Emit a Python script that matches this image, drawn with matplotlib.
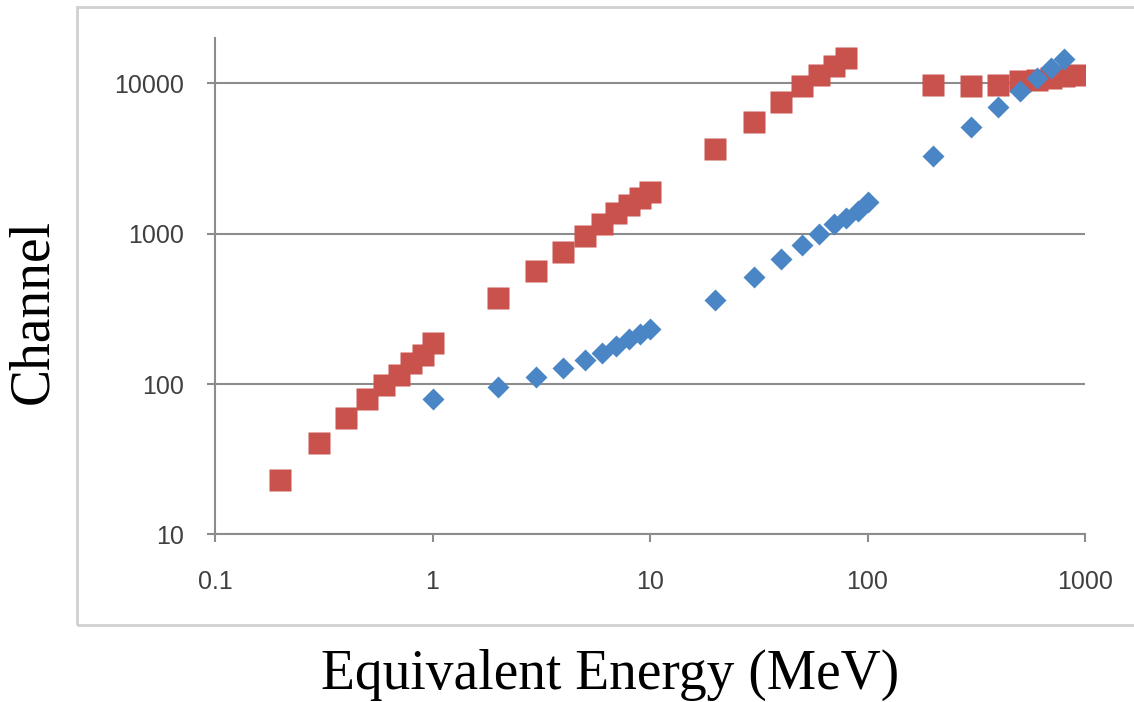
import numpy as np
import matplotlib.pyplot as plt
from matplotlib.patches import Rectangle

# data
red_energy = [0.2, 0.3, 0.4, 0.5, 0.6, 0.7, 0.8, 0.9, 1,
              2, 3, 4, 5, 6, 7, 8, 9, 10,
              20, 30, 40, 50, 60, 70, 80,
              200, 300, 400, 500, 600, 700, 800, 900]
red_channel = [23, 40.7, 59.4, 79.5, 98.5, 115, 138, 156, 188,
               373, 567, 759, 966, 1161, 1374, 1552, 1729, 1902,
               3680, 5570, 7550, 9660, 11350, 13060, 14860,
               9800, 9550, 9800, 10330, 10600, 10880, 11170, 11460]

blue_energy = [1, 2, 3, 4, 5, 6, 7, 8, 9, 10,
               20, 30, 40, 50, 60, 70, 80, 90, 100,
               200, 300, 400, 500, 600, 700, 800]
blue_channel = [79.5, 95.5, 111, 128, 144.5, 161, 179, 199, 215, 232,
                362, 515, 679, 841, 995, 1161, 1282, 1422, 1625,
                3311, 5164, 6980, 8970, 10880, 12710, 14490]

x_ticks = [0.1, 1, 10, 100, 1000]
x_ticklabels = ['0.1', '1', '10', '100', '1000']
y_ticks = [10, 100, 1000, 10000]
y_ticklabels = ['10', '100', '1000', '10000']

grid_color = '#8c8c8c'
label_color = '#404040'

fig = plt.figure(figsize=(11.34, 7.02), dpi=100)

# light grey chart-area frame (as in the excel export)
frame = Rectangle((0.068, 0.11), 1.0, 0.88, transform=fig.transFigure,
                  fill=False, edgecolor='#d0d0d0', lw=2, zorder=0)
fig.patches.append(frame)

ax = fig.add_axes([0.1896, 0.2389, 0.9568 - 0.1896, 0.9456 - 0.2389])
ax.set_xscale('log')
ax.set_yscale('log')
ax.set_xlim(0.1, 1000)
ax.set_ylim(10, 20000)

ax.plot(red_energy, red_channel, ls='none', marker='s', ms=16.5,
        color='#c9524c', mec='none', zorder=3)
ax.plot(blue_energy, blue_channel, ls='none', marker='D', ms=11,
        color='#4a86c6', mec='none', zorder=4)

ax.set_xticks(x_ticks)
ax.set_xticklabels(x_ticklabels)
ax.set_yticks(y_ticks)
ax.set_yticklabels(y_ticklabels)
ax.minorticks_off()

ax.yaxis.grid(True, color=grid_color, lw=1.5)
ax.xaxis.grid(False)
ax.set_axisbelow(True)

for s in ['top', 'right']:
    ax.spines[s].set_visible(False)
for s in ['left', 'bottom']:
    ax.spines[s].set_color(grid_color)
    ax.spines[s].set_linewidth(1.5)

ax.tick_params(axis='both', direction='out', length=6, width=1.5,
               color=grid_color, labelcolor=label_color, labelsize=18)
ax.tick_params(axis='x', pad=20)
ax.tick_params(axis='y', pad=16)
for t in ax.get_xticklabels() + ax.get_yticklabels():
    t.set_family('Liberation Sans')

fig.text(0.029, 1 - 312 / 702, 'Channel', rotation=90, ha='center',
         va='center', family='Liberation Serif', fontsize=40)
fig.text(0.538, 13 / 702, 'Equivalent Energy (MeV)', ha='center',
         va='baseline', family='Liberation Serif', fontsize=40)

plt.savefig('out.png', dpi=100)
